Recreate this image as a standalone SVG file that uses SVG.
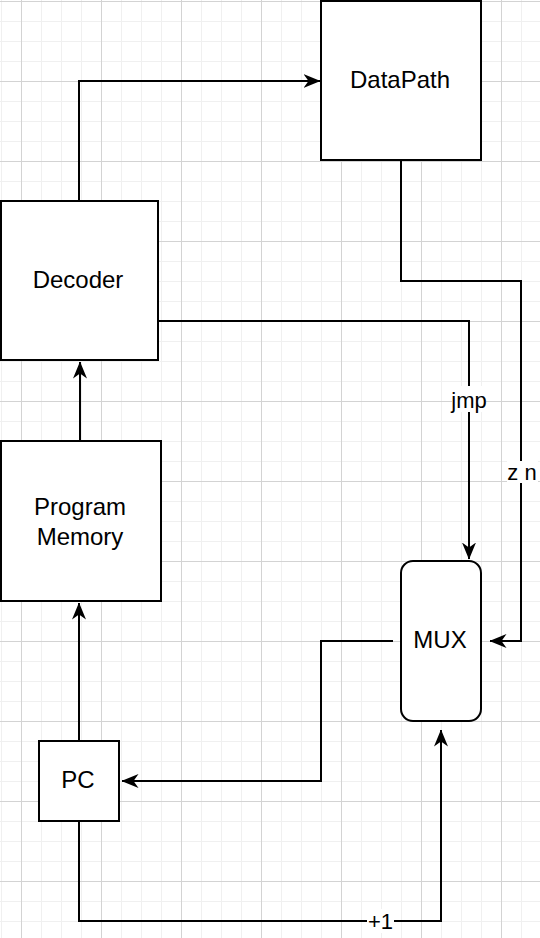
<svg xmlns="http://www.w3.org/2000/svg" width="540" height="938" viewBox="0 0 540 938">
  <defs>
    <pattern id="minor" patternUnits="userSpaceOnUse" x="1" y="1" width="20" height="20">
      <path d="M0 0.5 H20 M0.5 0 V20" stroke="#f0f0f0" stroke-width="1" fill="none"/>
    </pattern>
    <pattern id="major" patternUnits="userSpaceOnUse" x="21" y="1" width="80" height="80">
      <path d="M0 0.5 H80 M0.5 0 V80" stroke="#d3d3d3" stroke-width="1" fill="none"/>
    </pattern>
    <marker id="arrow" markerUnits="userSpaceOnUse" viewBox="0 0 17 14" refX="16.5" refY="7" markerWidth="17" markerHeight="14" orient="auto">
      <path d="M0 0 L17 7 L0 14 L5 7 Z" fill="#000"/>
    </marker>
    <style>
      .box { fill: #fff; stroke: #000; stroke-width: 2; }
      .edge { fill: none; stroke: #000; stroke-width: 2; marker-end: url(#arrow); }
      .lbl { font-family: "Liberation Sans", Arial, sans-serif; font-size: 24px; fill: #000; text-anchor: middle; }
      .elbl { font-family: "Liberation Sans", Arial, sans-serif; font-size: 22px; fill: #000; text-anchor: middle; }
      .lblbg { fill: #fff; }
    </style>
  </defs>

  <rect width="540" height="938" fill="#fff"/>
  <rect width="540" height="938" fill="url(#minor)"/>
  <rect width="540" height="938" fill="url(#major)"/>

  <g id="connectors">
    <path class="edge" d="M79 201 V81 H320"/>
    <path class="edge" d="M158 321 H469 V559"/>
    <path class="edge" d="M401 161 V281 H521 V641 H490"/>
    <path class="edge" d="M393 641 H321 V781 H122"/>
    <path class="edge" d="M79 821 V921 H441 V730"/>
    <path class="edge" d="M79 741 V603"/>
    <path class="edge" d="M80 441 V362"/>
    <g id="label-jmp">
      <rect class="lblbg" x="452" y="386" width="34" height="26"/>
      <text class="elbl" x="469" y="408">jmp</text>
    </g>
    <g id="label-zn">
      <rect class="lblbg" x="507" y="461" width="31" height="22"/>
      <text class="elbl" x="522" y="480">z n</text>
    </g>
    <g id="label-plus1">
      <rect class="lblbg" x="367" y="909" width="27" height="24"/>
      <text class="elbl" x="380.5" y="929">+1</text>
    </g>
  </g>

  <g id="datapath">
    <rect class="box" x="321" y="1" width="160" height="159"/>
    <text class="lbl" x="400" y="88">DataPath</text>
  </g>
  <g id="decoder">
    <rect class="box" x="1" y="201" width="157" height="159"/>
    <text class="lbl" x="78" y="288">Decoder</text>
  </g>
  <g id="program-memory">
    <rect class="box" x="1" y="441" width="160" height="160"/>
    <text class="lbl" x="80" y="515">Program</text>
    <text class="lbl" x="80" y="545">Memory</text>
  </g>
  <g id="pc">
    <rect class="box" x="39" y="741" width="80" height="80"/>
    <text class="lbl" x="78" y="788">PC</text>
  </g>
  <g id="mux">
    <rect class="box" x="401" y="561" width="80" height="160" rx="12" ry="12"/>
    <text class="lbl" x="440" y="648">MUX</text>
  </g>
</svg>
